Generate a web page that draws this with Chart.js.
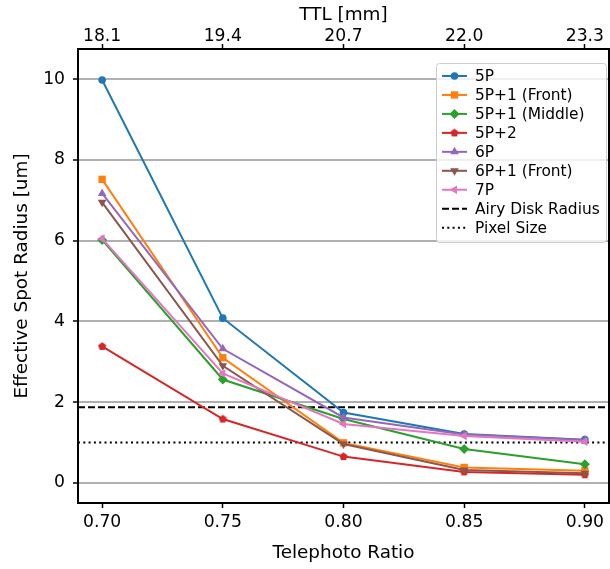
<!DOCTYPE html>
<html>
<head>
<meta charset="utf-8">
<script src="https://cdn.jsdelivr.net/npm/chart.js@4"></script>
<style>
html,body{margin:0;padding:0;background:#fff;}
#wrap{width:610px;height:569px;}
</style>
</head>
<body>
<div id="wrap"><canvas id="c" width="610" height="569"></canvas></div>
<script>
const telephotoRatio = [0.70, 0.75, 0.80, 0.85, 0.90];
const ttlLabels = ['18.1', '19.4', '20.7', '22.0', '23.3'];
const yTicks = [0, 2, 4, 6, 8, 10];

const seriesNames = ['5P', '5P+1 (Front)', '5P+1 (Middle)', '5P+2', '6P', '6P+1 (Front)', '7P'];
const s5P        = [9.98, 4.08, 1.74, 1.21, 1.07];
const s5P1Front  = [7.52, 3.10, 0.99, 0.38, 0.30];
const s5P1Middle = [6.02, 2.56, 1.58, 0.84, 0.46];
const s5P2       = [3.38, 1.58, 0.65, 0.27, 0.20];
const s6P        = [7.17, 3.32, 1.62, 1.20, 1.06];
const s6P1Front  = [6.95, 2.90, 0.96, 0.32, 0.24];
const s7P        = [6.05, 2.71, 1.46, 1.16, 1.02];
const seriesValues = [s5P, s5P1Front, s5P1Middle, s5P2, s6P, s6P1Front, s7P];

const airyDiskRadius = 1.87;
const pixelSize = 1.0;

const colors = ['#1f77b4', '#ff7f0e', '#2ca02c', '#d62728', '#9467bd', '#8c564b', '#e377c2'];

function pentagon(color, r) {
  const s = Math.ceil(r * 2 + 2);
  const cv = document.createElement('canvas');
  cv.width = s; cv.height = s;
  const g = cv.getContext('2d');
  g.fillStyle = color;
  g.beginPath();
  for (let k = 0; k < 5; k++) {
    const a = -Math.PI / 2 + k * 2 * Math.PI / 5;
    const px = s / 2 + r * Math.cos(a), py = s / 2 + r * Math.sin(a);
    if (k === 0) g.moveTo(px, py); else g.lineTo(px, py);
  }
  g.closePath(); g.fill();
  return cv;
}

const markers = [
  {style: 'circle', rot: 0, r: 3.8},
  {style: 'rect', rot: 0, r: 5.2},
  {style: 'rectRot', rot: 0, r: 5},
  {style: pentagon(colors[3], 4.3), rot: 0, r: 4.3},
  {style: 'triangle', rot: 0, r: 5},
  {style: 'triangle', rot: 180, r: 5},
  {style: 'triangle', rot: 270, r: 5}
];

const FONT = "'DejaVu Sans', sans-serif";

const datasets = seriesNames.map((name, i) => ({
  label: name,
  data: telephotoRatio.map((x, j) => ({x: x, y: seriesValues[i][j]})),
  borderColor: colors[i],
  backgroundColor: colors[i],
  borderWidth: 2,
  pointStyle: markers[i].style,
  pointRotation: markers[i].rot,
  pointRadius: markers[i].r,
  pointBorderWidth: 0,
  pointHoverRadius: markers[i].r,
  order: seriesNames.length - 1 - i,
  tension: 0
}));

const refLines = [
  {label: 'Airy Disk Radius', value: airyDiskRadius, dash: [7, 3]},
  {label: 'Pixel Size', value: pixelSize, dash: [2, 3.3]}
];

const overlay = {
  id: 'overlay',
  beforeDatasetsDraw(chart) {
    const {ctx, chartArea: a, scales} = chart;
    ctx.save();
    refLines.forEach(l => {
      const y = scales.y.getPixelForValue(l.value);
      ctx.strokeStyle = '#000';
      ctx.lineWidth = 2;
      ctx.setLineDash(l.dash);
      ctx.beginPath(); ctx.moveTo(a.left, y); ctx.lineTo(a.right, y); ctx.stroke();
    });
    ctx.restore();
  },
  afterDatasetsDraw(chart) {
    const {ctx, chartArea: a} = chart;
    ctx.save();
    ctx.strokeStyle = '#000';
    ctx.lineWidth = 2;
    ctx.setLineDash([]);
    ctx.strokeRect(a.left, a.top, a.right - a.left, a.bottom - a.top);
    const bx = 436.5, by = 63.5, bw = 170, bh = 179;
    ctx.fillStyle = 'rgba(255,255,255,0.8)';
    ctx.strokeStyle = '#cccccc';
    ctx.lineWidth = 1;
    ctx.beginPath();
    ctx.roundRect(bx, by, bw, bh, 3);
    ctx.fill(); ctx.stroke();
    const rowH = 18.96, y0 = 76, lx0 = 442, lx1 = 467, tx = 475;
    ctx.font = '15.4px ' + FONT;
    ctx.textBaseline = 'middle';
    ctx.textAlign = 'left';
    const all = datasets.map((d, i) => ({label: d.label, i: i})).concat(refLines.map(l => ({label: l.label, ref: l})));
    all.forEach((it, k) => {
      const y = y0 + k * rowH;
      ctx.save();
      if (it.ref) {
        ctx.strokeStyle = '#000';
        ctx.lineWidth = 2;
        ctx.setLineDash(it.ref.dash);
      } else {
        ctx.strokeStyle = colors[it.i];
        ctx.lineWidth = 2;
        ctx.setLineDash([]);
      }
      ctx.beginPath(); ctx.moveTo(lx0, y); ctx.lineTo(lx1, y); ctx.stroke();
      if (!it.ref) {
        ctx.fillStyle = colors[it.i];
        Chart.helpers.drawPoint(ctx, {pointStyle: markers[it.i].style, rotation: markers[it.i].rot, radius: markers[it.i].r, borderWidth: 0}, (lx0 + lx1) / 2, y);
      }
      ctx.restore();
      ctx.fillStyle = '#000';
      ctx.fillText(it.label, tx, y + 1);
    });
    ctx.restore();
  }
};

new Chart(document.getElementById('c'), {
  type: 'line',
  data: {datasets: datasets},
  plugins: [overlay],
  options: {
    responsive: false,
    animation: false,
    layout: {autoPadding: false, padding: {left: 0, right: 1, top: 0, bottom: 0}},
    plugins: {legend: {display: false}, tooltip: {enabled: false}},
    scales: {
      x: {
        type: 'linear',
        position: 'bottom',
        min: 0.69, max: 0.91,
        afterBuildTicks: s => { s.ticks = telephotoRatio.map(v => ({value: v})); },
        afterFit: s => { s.height = 66; },
        ticks: {callback: v => v.toFixed(2), font: {family: FONT, size: 17.2}, color: '#000', padding: 4, maxRotation: 0},
        grid: {drawOnChartArea: false, tickColor: '#000', tickLength: 5, tickWidth: 1.5},
        border: {display: false},
        title: {display: true, text: 'Telephoto Ratio', font: {family: FONT, size: 18.4}, color: '#000', padding: {top: 0, bottom: 5}}
      },
      x2: {
        type: 'linear',
        position: 'top',
        min: 0.69, max: 0.91,
        afterBuildTicks: s => { s.ticks = telephotoRatio.map(v => ({value: v})); },
        afterFit: s => { s.height = 49; },
        ticks: {callback: (v) => { const i = telephotoRatio.findIndex(t => Math.abs(t - v) < 1e-9); return i >= 0 ? ttlLabels[i] : ''; }, font: {family: FONT, size: 17.2}, color: '#000', padding: -3, maxRotation: 0},
        grid: {drawOnChartArea: false, tickColor: '#000', tickLength: 5, tickWidth: 1.5},
        border: {display: false},
        title: {display: true, text: 'TTL [mm]', font: {family: FONT, size: 18.4}, color: '#000', padding: {top: 4, bottom: 0}}
      },
      y: {
        type: 'linear',
        position: 'left',
        min: -0.5, max: 10.75,
        afterBuildTicks: s => { s.ticks = yTicks.map(v => ({value: v})); },
        afterFit: s => { s.width = 78; },
        ticks: {callback: v => String(v), font: {family: FONT, size: 17.2}, color: '#000', padding: 8},
        grid: {color: '#b0b0b0', lineWidth: 2, tickColor: '#000', tickLength: 5, tickWidth: 1.5},
        border: {display: false},
        title: {display: true, text: 'Effective Spot Radius [um]', font: {family: FONT, size: 18.4}, color: '#000', padding: {top: 11, bottom: 0}}
      }
    }
  }
});
</script>
</body>
</html>
